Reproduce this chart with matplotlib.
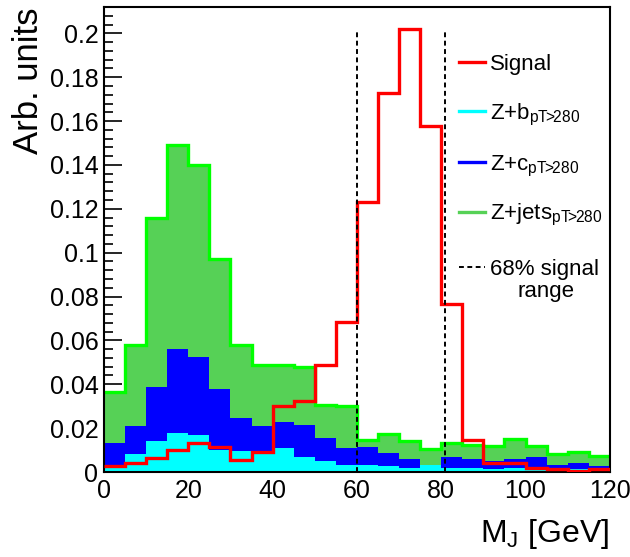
import numpy as np
import matplotlib
matplotlib.use("Agg")
import matplotlib.pyplot as plt
from matplotlib.ticker import MultipleLocator

# bin edges of the jet mass histogram (GeV)
edges = np.arange(0, 125, 5)

# per-bin contents
z_b = [0.0020, 0.0080, 0.0140, 0.0180, 0.0170, 0.0100, 0.0098, 0.0080,
       0.0110, 0.0068, 0.0052, 0.0034, 0.0034, 0.0026, 0.0019, 0.0030,
       0.0020, 0.0017, 0.0012, 0.0019, 0.0008, 0.0008, 0.0012, 0.0006]
z_c = [0.0113, 0.0130, 0.0246, 0.0379, 0.0355, 0.0278, 0.0147, 0.0130,
       0.0116, 0.0147, 0.0103, 0.0076, 0.0079, 0.0061, 0.0038, 0.0004,
       0.0049, 0.0040, 0.0037, 0.0038, 0.0060, 0.0023, 0.0030, 0.0020]
z_jets = [0.0233, 0.0369, 0.0774, 0.0931, 0.0875, 0.0592, 0.0335, 0.0277,
          0.0261, 0.0262, 0.0150, 0.0190, 0.0035, 0.0088, 0.0083, 0.0072,
          0.0064, 0.0068, 0.0069, 0.0094, 0.0050, 0.0052, 0.0050, 0.0046]
signal = [0.0026, 0.0042, 0.0065, 0.0099, 0.0130, 0.0113, 0.0055, 0.0090,
          0.0300, 0.0325, 0.0490, 0.0685, 0.1230, 0.1730, 0.2020, 0.1576,
          0.0765, 0.0145, 0.0042, 0.0040, 0.0020, 0.0012, 0.0003, 0.0012]

# 68% signal mass window (GeV)
sig_range = [60, 81]

sub = r"$_{\mathregular{pT\!\!>\!\!280}}$"
labels = ["Signal", "Z+b" + sub, "Z+c" + sub, "Z+jets" + sub, "68% signal"]

c_sig = "#ff0000"
c_b = "#00ffff"
c_c = "#0000ff"
c_jets = "#56d156"
c_jets_line = "#00ff00"
dash = (0, (2.5, 1.8))


def main():
    plt.rcParams["font.family"] = ["Liberation Sans", "DejaVu Sans"]
    plt.rcParams["mathtext.fontset"] = "custom"
    plt.rcParams["mathtext.rm"] = "Liberation Sans"
    plt.rcParams["mathtext.it"] = "Liberation Sans:italic"

    fig = plt.figure(figsize=(6.3, 5.57), dpi=100)
    ax = fig.add_axes([0.165, 0.1526, 0.803, 0.8348])

    b = np.array(z_b)
    bc = b + np.array(z_c)
    tot = bc + np.array(z_jets)

    # stacked histograms
    ax.stairs(b, edges, baseline=0, fill=True, color=c_b, zorder=1)
    ax.stairs(bc, edges, baseline=b, fill=True, color=c_c, zorder=1)
    ax.stairs(tot, edges, baseline=bc, fill=True, color=c_jets, zorder=1)
    ax.stairs(tot, edges, baseline=None, color=c_jets_line, lw=2.4, zorder=2)

    # signal on top
    ax.stairs(signal, edges, baseline=None, color=c_sig, lw=2.4, zorder=3)

    ax.vlines(sig_range, 0, max(signal), colors="black",
              linestyles=dash, lw=1.4, zorder=4)

    ax.set_xlim(0, 120)
    ax.set_ylim(0, 0.212)
    ax.xaxis.set_major_locator(MultipleLocator(20))
    ax.xaxis.set_minor_locator(MultipleLocator(4))
    ax.yaxis.set_minor_locator(MultipleLocator(0.004))
    ax.set_yticks(np.arange(0, 0.21, 0.02))
    ax.set_yticklabels(["0", "0.02", "0.04", "0.06", "0.08", "0.1",
                        "0.12", "0.14", "0.16", "0.18", "0.2"])
    ax.tick_params(which="both", direction="in", top=False, right=False,
                   labelsize=18, width=1.2)
    ax.tick_params(axis="y", which="both", pad=4)
    ax.tick_params(axis="x", which="both", pad=5)
    ax.tick_params(which="major", length=13)
    ax.tick_params(which="minor", length=6.5)
    ax.set_axisbelow(True)
    for s in ax.spines.values():
        s.set_linewidth(1.5)

    ax.set_xlabel(r"M$_{\mathregular{J}}$ [GeV]", fontsize=23, loc="right",
                  labelpad=10)
    ax.set_ylabel("Arb. units", fontsize=25, loc="top", labelpad=3)

    # legend, ROOT style: short line sample then label
    colors = [c_sig, c_b, c_c, c_jets, "black"]
    styles = ["-", "-", "-", "-", dash]
    widths = [2.4, 2.4, 2.4, 2.4, 1.4]
    rows = [0.8817, 0.7763, 0.6677, 0.5602, 0.4409]
    for lab, col, ls, lw, yr in zip(labels, colors, styles, widths, rows):
        ax.plot([0.7016, 0.7530], [yr, yr], color=col, ls=ls, lw=lw,
                transform=ax.transAxes, zorder=5)
        ax.text(0.7628, yr - 0.018, lab, fontsize=16, va="baseline",
                ha="left", transform=ax.transAxes, zorder=5)
    ax.text(0.8735, rows[-1] - 0.018 - 0.047, "range", fontsize=16,
            va="baseline", ha="center", transform=ax.transAxes, zorder=5)

    fig.savefig("out.png", dpi=100)


if __name__ == "__main__":
    main()
